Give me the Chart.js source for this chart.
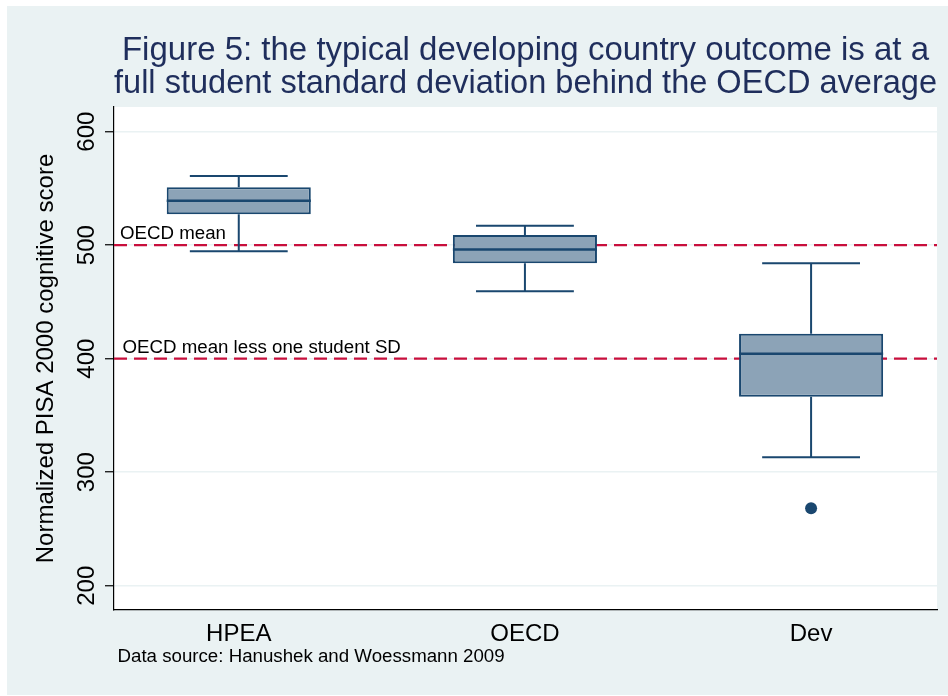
<!DOCTYPE html>
<html><head><meta charset="utf-8">
<script src="https://cdn.jsdelivr.net/npm/chart.js@4/dist/chart.umd.min.js"></script>
<style>html,body{margin:0;padding:0;background:#fff}</style>
</head><body>
<canvas id="c" width="948" height="696" style="width:948px;height:696px;display:block"></canvas>
<script>
// ---- data ----
const categories = ['HPEA', 'OECD', 'Dev'];
const whiskerLow  = [494.6, 459.4, 313.1];
const q1          = [527.2, 484.0, 366.5];
const median      = [539.2, 496.1, 404.4];
const q3          = [551.0, 509.0, 422.0];
const whiskerHigh = [561.0, 517.2, 484.0];
const outliers    = [[], [], [268.2]];
const yTicks = [200, 300, 400, 500, 600];
const refLines = [500, 400];
const refLabels = ['OECD mean', 'OECD mean less one student SD'];
const titleLines = ['Figure 5: the typical developing country outcome is at a',
                    'full student standard deviation behind the OECD average'];
const yTitle = 'Normalized PISA 2000 cognitive score';
const note = 'Data source: Hanushek and Woessmann 2009';

// ---- styles ----
const FONT = '"Liberation Sans", Arial, Helvetica, sans-serif';
const BG = '#EAF2F3';
const NAVY = '#1A476F';
const BOXFILL = '#8CA3B7';
const RED = '#C80F3C';
const BOX_HALF = 0.2518;
const CAP_HALF = 0.171;

Chart.defaults.font.family = FONT;

const bgPlugin = {
  id: 'bg',
  beforeDraw(chart) {
    const ctx = chart.ctx, a = chart.chartArea;
    ctx.save();
    ctx.fillStyle = '#fff';
    ctx.fillRect(0, 0, chart.width, chart.height);
    ctx.fillStyle = BG;
    ctx.fillRect(7, 6, chart.width - 7, chart.height - 7);
    ctx.fillStyle = '#fff';
    ctx.fillRect(a.left, a.top, a.right - a.left, a.bottom - a.top);
    ctx.restore();
  }
};

const refPlugin = {
  id: 'refs',
  beforeDatasetsDraw(chart) {
    const ctx = chart.ctx, a = chart.chartArea, ys = chart.scales.y;
    const dx = [6, 8.5];
    ctx.save();
    refLines.forEach((v, i) => {
      const y = ys.getPixelForValue(v);
      ctx.strokeStyle = RED;
      ctx.lineWidth = 2.2;
      ctx.setLineDash([13, 7]);
      ctx.beginPath();
      ctx.moveTo(a.left, y);
      ctx.lineTo(a.right, y);
      ctx.stroke();
      ctx.setLineDash([]);
      ctx.fillStyle = '#000';
      ctx.font = '18.7px ' + FONT;
      ctx.textAlign = 'left';
      ctx.textBaseline = 'alphabetic';
      ctx.fillText(refLabels[i], a.left + dx[i], y - 6);
    });
    ctx.restore();
  }
};

const boxPlugin = {
  id: 'boxdecor',
  afterDatasetsDraw(chart) {
    const ctx = chart.ctx, xs = chart.scales.x, ys = chart.scales.y;
    ctx.save();
    ctx.strokeStyle = NAVY;
    ctx.lineCap = 'butt';
    categories.forEach((c, i) => {
      const xv = i + 1;
      const x = xs.getPixelForValue(xv);
      const cl = xs.getPixelForValue(xv - CAP_HALF), cr = xs.getPixelForValue(xv + CAP_HALF);
      const bl = xs.getPixelForValue(xv - BOX_HALF), br = xs.getPixelForValue(xv + BOX_HALF);
      const yq1 = ys.getPixelForValue(q1[i]), yq3 = ys.getPixelForValue(q3[i]);
      const ylo = ys.getPixelForValue(whiskerLow[i]), yhi = ys.getPixelForValue(whiskerHigh[i]);
      const ym = ys.getPixelForValue(median[i]);
      ctx.lineWidth = 2;
      ctx.beginPath();
      ctx.moveTo(x, yq3); ctx.lineTo(x, yhi);
      ctx.moveTo(cl, yhi); ctx.lineTo(cr, yhi);
      ctx.moveTo(x, yq1); ctx.lineTo(x, ylo);
      ctx.moveTo(cl, ylo); ctx.lineTo(cr, ylo);
      ctx.stroke();
      ctx.lineWidth = 2.5;
      ctx.beginPath();
      ctx.moveTo(bl, ym); ctx.lineTo(br, ym);
      ctx.stroke();
    });
    ctx.restore();
  }
};

const textPlugin = {
  id: 'texts',
  afterDraw(chart) {
    const ctx = chart.ctx, ys = chart.scales.y, a = chart.chartArea;
    ctx.save();
    ctx.fillStyle = '#000';
    ctx.font = '24px ' + FONT;
    ctx.textAlign = 'center';
    ctx.textBaseline = 'middle';
    ys.ticks.forEach(t => {
      const y = ys.getPixelForValue(t.value);
      ctx.save();
      ctx.translate(87.5, y);
      ctx.rotate(-Math.PI / 2);
      ctx.fillText(String(t.value), 0, 0);
      ctx.restore();
    });
    ctx.font = '18.7px ' + FONT;
    ctx.textAlign = 'left';
    ctx.textBaseline = 'alphabetic';
    ctx.fillText(note, a.left + 3.5, 662);
    ctx.restore();
  }
};

const boxData = categories.map((c, i) => ({ x: i + 1, y: [q1[i], q3[i]] }));
const outData = [];
outliers.forEach((arr, i) => arr.forEach(v => outData.push({ x: i + 1, y: v })));

new Chart(document.getElementById('c'), {
  type: 'bar',
  data: {
    datasets: [
      {
        type: 'scatter',
        data: outData,
        pointRadius: 6,
        pointHoverRadius: 6,
        backgroundColor: NAVY,
        borderWidth: 0
      },
      {
        type: 'bar',
        data: boxData,
        backgroundColor: BOXFILL,
        borderColor: NAVY,
        borderWidth: 2,
        borderSkipped: false,
        barPercentage: 0.5035,
        categoryPercentage: 1
      }
    ]
  },
  options: {
    responsive: false,
    animation: false,
    devicePixelRatio: 1,
    layout: { padding: { left: 0, right: 11, top: 0, bottom: 0 } },
    plugins: {
      legend: { display: false },
      tooltip: { enabled: false },
      title: {
        display: true,
        text: titleLines,
        color: '#1F2E5C',
        font: { size: 33, weight: 'normal', lineHeight: 1 },
        padding: { top: 34, bottom: 7 },
        fullSize: false
      }
    },
    scales: {
      x: {
        type: 'linear',
        min: 0.564,
        max: 3.440,
        offset: false,
        afterBuildTicks: s => { s.ticks = categories.map((c, i) => ({ value: i + 1 })); },
        ticks: {
          callback: (v, i) => categories[i],
          font: { size: 24 },
          color: '#000',
          padding: 10,
          autoSkip: false,
          maxRotation: 0,
          minRotation: 0
        },
        grid: { display: false, drawTicks: false },
        border: { display: true, color: '#000', width: 1.2 },
        afterFit: s => { s.height = 86; }
      },
      y: {
        type: 'linear',
        min: 178.6,
        max: 621.7,
        afterBuildTicks: s => { s.ticks = yTicks.map(v => ({ value: v })); },
        ticks: { display: false },
        grid: { color: BG, lineWidth: 1.5, drawTicks: true, tickLength: 9, tickColor: '#000', tickWidth: 1.2 },
        border: { display: true, color: '#000', width: 1.2 },
        title: {
          display: true,
          text: yTitle,
          color: '#000',
          font: { size: 24, lineHeight: 1.2 },
          padding: { top: 31.6, bottom: 0 }
        },
        afterFit: s => { s.width = 114; }
      }
    }
  },
  plugins: [bgPlugin, refPlugin, boxPlugin, textPlugin]
});
</script>
</body></html>
